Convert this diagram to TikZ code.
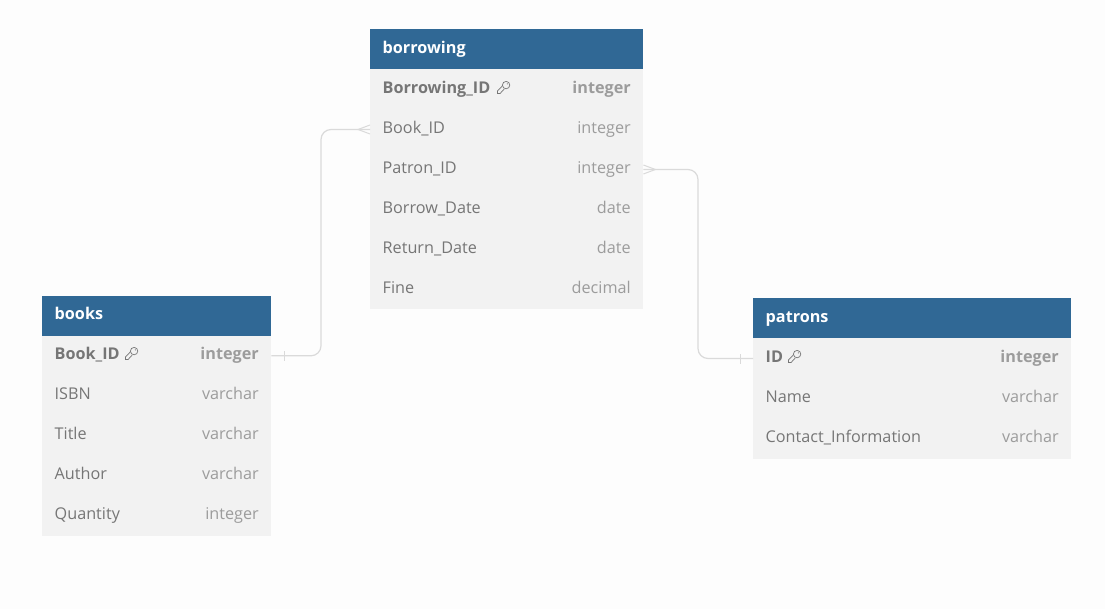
\documentclass[tikz,border=0pt]{standalone}
\usepackage{fontspec}
\setmainfont{Open Sans}

\definecolor{headblue}{HTML}{306895}
\definecolor{rowgray}{HTML}{F2F2F2}
\definecolor{pagegray}{HTML}{FDFDFD}
\definecolor{namegray}{HTML}{767676}
\definecolor{typegray}{HTML}{9C9C9C}
\definecolor{linegray}{HTML}{DADADA}

\tikzset{
  headbox/.style={fill=headblue,text=white,font=\fontsize{16.2}{18}\selectfont\bfseries,
    anchor=north west,inner sep=0pt,inner xsep=12.5pt,minimum height=40pt,align=left,
    text height=12pt,text depth=4pt},
  rowbox/.style={fill=rowgray,text=namegray,font=\fontsize{16.2}{18}\selectfont,
    anchor=north west,inner sep=0pt,inner xsep=12.5pt,minimum height=40pt,align=left,
    text height=12pt,text depth=4pt},
  keybox/.style={rowbox,font=\fontsize{16.2}{18}\selectfont\bfseries},
  typename/.style={text=typegray,font=\fontsize{16.2}{18}\selectfont,anchor=east,
    inner sep=0pt,xshift=-12.5pt,text height=12pt,text depth=4pt},
  keytype/.style={typename,font=\fontsize{16.2}{18}\selectfont\bfseries},
  rel/.style={draw=linegray,line width=1.2pt,rounded corners=10pt},
  mark line/.style={draw=linegray,line width=1pt},
  keyicon/.pic={
    \draw[namegray,line width=0.7pt] (-0.6,-2.2) -- (-6,3.4) -- (-6,6) -- (-3.4,6) -- (0.8,1.4);
    \draw[namegray,line width=0.7pt,fill=rowgray] (2.6,-2.4) circle (3.7pt);
    \fill[namegray] (3.8,-3.6) circle (0.6pt);
  }
}

\begin{document}
\begin{tikzpicture}[x=1pt,y=-1pt]
  \useasboundingbox[fill=pagegray] (0,0) rectangle (1105,609);

  % borrowing
  \node[headbox,minimum width=273pt,text width=248pt](borrowing)at(370,29.3){borrowing};
  \node[keybox,minimum width=273pt,text width=248pt](bwid)at(370,69.3){Borrowing\_ID};
  \node[rowbox,minimum width=273pt,text width=248pt](bwbook)at(370,109.3){Book\_ID};
  \node[rowbox,minimum width=273pt,text width=248pt](bwpatron)at(370,149.3){Patron\_ID};
  \node[rowbox,minimum width=273pt,text width=248pt](bwborrow)at(370,189.3){Borrow\_Date};
  \node[rowbox,minimum width=273pt,text width=248pt](bwreturn)at(370,229.3){Return\_Date};
  \node[rowbox,minimum width=273pt,text width=248pt](bwfine)at(370,269.3){Fine};
  \node[keytype](tbwid)at(bwid.east){integer};
  \node[typename](tbwbook)at(bwbook.east){integer};
  \node[typename](tbwpatron)at(bwpatron.east){integer};
  \node[typename](tbwborrow)at(bwborrow.east){date};
  \node[typename](tbwreturn)at(bwreturn.east){date};
  \node[typename](tbwfine)at(bwfine.east){decimal};
  \pic at (503.5,87.5) {keyicon};

  % books
  \node[headbox,minimum width=229pt,text width=204pt](books)at(42,295.6){books};
  \node[keybox,minimum width=229pt,text width=204pt](bkid)at(42,335.6){Book\_ID};
  \node[rowbox,minimum width=229pt,text width=204pt](bkisbn)at(42,375.6){ISBN};
  \node[rowbox,minimum width=229pt,text width=204pt](bktitle)at(42,415.6){Title};
  \node[rowbox,minimum width=229pt,text width=204pt](bkauthor)at(42,455.6){Author};
  \node[rowbox,minimum width=229pt,text width=204pt](bkqty)at(42,495.6){Quantity};
  \node[keytype](tbkid)at(bkid.east){integer};
  \node[typename](tbkisbn)at(bkisbn.east){varchar};
  \node[typename](tbktitle)at(bktitle.east){varchar};
  \node[typename](tbkauthor)at(bkauthor.east){varchar};
  \node[typename](tbkqty)at(bkqty.east){integer};
  \pic at (131.5,353.5) {keyicon};

  % patrons
  \node[headbox,minimum width=318pt,text width=293pt](patrons)at(753,298.3){patrons};
  \node[keybox,minimum width=318pt,text width=293pt](ptid)at(753,338.3){ID};
  \node[rowbox,minimum width=318pt,text width=293pt](ptname)at(753,378.3){Name};
  \node[rowbox,minimum width=318pt,text width=293pt](ptcontact)at(753,418.3){Contact\_Information};
  \node[keytype](tptid)at(ptid.east){integer};
  \node[typename](tptname)at(ptname.east){varchar};
  \node[typename](tptcontact)at(ptcontact.east){varchar};
  \pic at (794.5,356.5) {keyicon};

  % relations
  \coordinate (bendl) at (321,242);
  \coordinate (bendr) at (698,263);
  \draw[rel] (bkid.east) -| (bendl) |- (bwbook.west);
  \draw[rel] (bwpatron.east) -| (bendr) |- (ptid.west);

  % ends of the relations
  \draw[mark line] ([xshift=-12pt]bwbook.west) -- ([yshift=-4.5pt]bwbook.west);
  \draw[mark line] ([xshift=-12pt]bwbook.west) -- ([yshift=4.5pt]bwbook.west);
  \draw[mark line] ([xshift=12pt]bwpatron.east) -- ([yshift=-4.5pt]bwpatron.east);
  \draw[mark line] ([xshift=12pt]bwpatron.east) -- ([yshift=4.5pt]bwpatron.east);
  \draw[mark line] ([xshift=13pt,yshift=-5pt]bkid.east) -- ([xshift=13pt,yshift=5pt]bkid.east);
  \draw[mark line] ([xshift=-13pt,yshift=-5pt]ptid.west) -- ([xshift=-13pt,yshift=5pt]ptid.west);
\end{tikzpicture}
\end{document}
